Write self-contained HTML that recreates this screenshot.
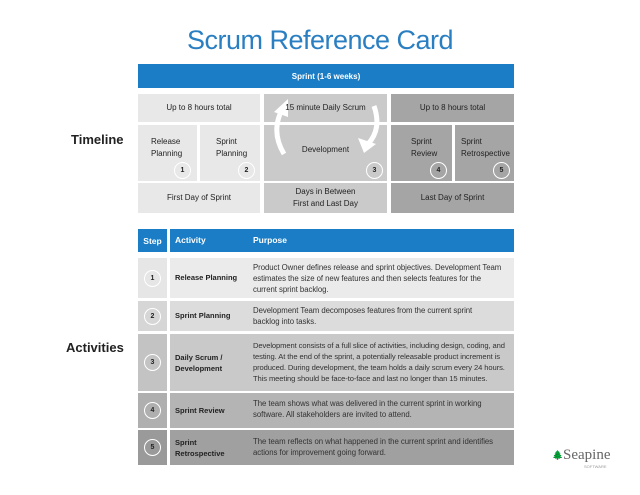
<!DOCTYPE html>
<html><head><meta charset="utf-8"><style>
*{margin:0;padding:0;box-sizing:border-box}
body{width:640px;height:495px;background:#fff;position:relative;overflow:hidden;font-family:"Liberation Sans",sans-serif;color:#222}
.a{position:absolute}
.c{display:flex;align-items:center;justify-content:center;text-align:center}
.t{font-size:8px;line-height:12px}
.circ{position:absolute;width:17px;height:17px;border-radius:50%;border:1.5px solid #fff;font-size:7px;font-weight:bold;display:flex;align-items:center;justify-content:center;color:#222}
.act{position:absolute;left:175px;font-size:7.5px;font-weight:bold;line-height:11px}
.pur{position:absolute;left:253px;font-size:7.8px;line-height:11px;color:#333;white-space:nowrap;letter-spacing:-0.05px}
</style></head><body>
<div class="a" style="left:0;top:25px;width:640px;text-align:center;font-size:27px;color:#2a7fc2;font-weight:300;letter-spacing:-0.5px">Scrum Reference Card</div>

<div class="a c" style="left:138px;top:64px;width:376px;height:24px;background:#1a7dc6;color:#fff;font-size:8px;font-weight:bold">Sprint (1-6 weeks)</div>

<div class="a c t" style="left:138px;top:94px;width:122px;height:28px;background:#e8e8e8">Up to 8 hours total</div>
<div class="a" style="left:264px;top:94px;width:123px;height:28px;background:#cacaca"></div>
<div class="a" style="left:391px;top:94px;width:123px;height:28px;background:#a5a5a5"></div>
<div class="a c t" style="left:391px;top:94px;width:123px;height:28px">Up to 8 hours total</div>

<div class="a t" style="left:138px;top:125px;width:59px;height:56px;background:#e8e8e8;padding:11px 0 0 13px">Release<br>Planning</div>
<div class="a t" style="left:200px;top:125px;width:60px;height:56px;background:#e8e8e8;padding:11px 0 0 16px">Sprint<br>Planning</div>
<div class="a" style="left:264px;top:125px;width:123px;height:56px;background:#cacaca"></div>
<div class="a t" style="left:391px;top:125px;width:61px;height:56px;background:#a5a5a5;padding:11px 0 0 20px">Sprint<br>Review</div>
<div class="a t" style="left:455px;top:125px;width:59px;height:56px;background:#a5a5a5;padding:11px 0 0 6px">Sprint<br>Retrospective</div>

<svg class="a" style="left:264px;top:94px" width="123" height="87">
<path d="M20 60 Q8 40 16 20" stroke="#fff" stroke-width="5" fill="none"/>
<polygon points="10,18 24,5 24,23" fill="#fff"/>
<path d="M110 12 Q118 35 104 50" stroke="#fff" stroke-width="5" fill="none"/>
<polygon points="94,44 100,59 112,50" fill="#fff"/>
</svg>
<div class="a c t" style="left:264px;top:94px;width:123px;height:28px">15 minute Daily Scrum</div>
<div class="a c t" style="left:264px;top:125px;width:123px;height:50px">Development</div>

<div class="circ" style="left:174px;top:162px;background:#e8e8e8">1</div>
<div class="circ" style="left:238px;top:162px;background:#e8e8e8">2</div>
<div class="circ" style="left:366px;top:162px;background:#cacaca">3</div>
<div class="circ" style="left:430px;top:162px;background:#a5a5a5">4</div>
<div class="circ" style="left:493px;top:162px;background:#a5a5a5">5</div>

<div class="a c t" style="left:138px;top:183px;width:122px;height:30px;background:#e8e8e8">First Day of Sprint</div>
<div class="a c t" style="left:264px;top:183px;width:123px;height:30px;background:#cacaca">Days in Between<br>First and Last Day</div>
<div class="a c t" style="left:391px;top:183px;width:123px;height:30px;background:#a5a5a5">Last Day of Sprint</div>

<div class="a" style="left:71px;top:132px;font-size:13px;font-weight:bold">Timeline</div>
<div class="a" style="left:66px;top:340px;font-size:13px;font-weight:bold">Activities</div>

<div class="a c" style="left:138px;top:229px;width:29px;height:23px;background:#1a7dc6;color:#fff;font-size:8.5px;font-weight:bold">Step</div>
<div class="a" style="left:170px;top:229px;width:344px;height:23px;background:#1a7dc6"></div>
<div class="a" style="left:175px;top:235px;color:#fff;font-size:8.5px;font-weight:bold">Activity</div>
<div class="a" style="left:253px;top:235px;color:#fff;font-size:8.5px;font-weight:bold">Purpose</div>

<div class="a" style="left:138px;top:258px;width:29px;height:40px;background:#e6e6e6"></div>
<div class="a" style="left:170px;top:258px;width:344px;height:40px;background:#ebebeb"></div>
<div class="circ" style="left:144px;top:270px;background:#e6e6e6">1</div>
<div class="act" style="top:272px">Release Planning</div>
<div class="pur" style="top:262px">Product Owner defines release and sprint objectives. Development Team<br>estimates the size of new features and then selects features for the<br>current sprint backlog.</div>

<div class="a" style="left:138px;top:301px;width:29px;height:30px;background:#d6d6d6"></div>
<div class="a" style="left:170px;top:301px;width:344px;height:30px;background:#dcdcdc"></div>
<div class="circ" style="left:144px;top:308px;background:#d6d6d6">2</div>
<div class="act" style="top:310px">Sprint Planning</div>
<div class="pur" style="top:305px">Development Team decomposes features from the current sprint<br>backlog into tasks.</div>

<div class="a" style="left:138px;top:334px;width:29px;height:57px;background:#c3c3c3"></div>
<div class="a" style="left:170px;top:334px;width:344px;height:57px;background:#c9c9c9"></div>
<div class="circ" style="left:144px;top:354px;background:#c3c3c3">3</div>
<div class="act" style="top:352px">Daily Scrum /<br>Development</div>
<div class="pur" style="top:340px;font-size:7.6px;letter-spacing:-0.1px">Development consists of a full slice of activities, including design, coding, and<br>testing. At the end of the sprint, a potentially releasable product increment is<br>produced. During development, the team holds a daily scrum every 24 hours.<br>This meeting should be face-to-face and last no longer than 15 minutes.</div>

<div class="a" style="left:138px;top:393px;width:29px;height:35px;background:#afafaf"></div>
<div class="a" style="left:170px;top:393px;width:344px;height:35px;background:#b4b4b4"></div>
<div class="circ" style="left:144px;top:402px;background:#afafaf">4</div>
<div class="act" style="top:405px">Sprint Review</div>
<div class="pur" style="top:398px">The team shows what was delivered in the current sprint in working<br>software. All stakeholders are invited to attend.</div>

<div class="a" style="left:138px;top:430px;width:29px;height:35px;background:#9a9a9a"></div>
<div class="a" style="left:170px;top:430px;width:344px;height:35px;background:#a0a0a0"></div>
<div class="circ" style="left:144px;top:439px;background:#9a9a9a">5</div>
<div class="act" style="top:437px">Sprint<br>Retrospective</div>
<div class="pur" style="top:436px">The team reflects on what happened in the current sprint and identifies<br>actions for improvement going forward.</div>

<div class="a" style="left:552px;top:450px;font-size:9px;color:#777">&#127794;</div>
<div class="a" style="left:563px;top:447px;font-family:'Liberation Serif',serif;font-size:15px;color:#666">Seapine</div>
<div class="a" style="left:584px;top:464px;font-size:4px;color:#999">SOFTWARE</div>
</body></html>
